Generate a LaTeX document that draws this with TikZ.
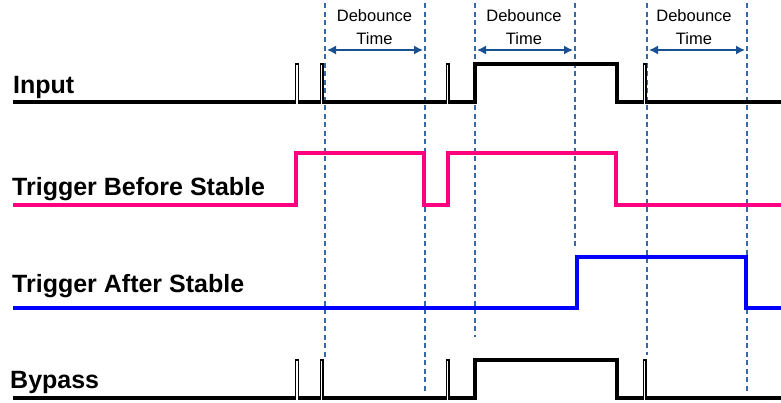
\documentclass[tikz,border=0pt]{standalone}
\usepackage{fontspec}
\setmainfont{Liberation Sans}
\usetikzlibrary{arrows.meta}
\definecolor{guide}{RGB}{55,105,165}
\definecolor{arrowc}{RGB}{25,80,145}
\definecolor{pinkw}{RGB}{255,0,128}
\definecolor{bluew}{RGB}{0,0,255}
\tikzset{
  guideline/.style={guide,line width=1.1pt,dash pattern=on 5pt off 3.5pt},
  wave/.style={line width=4pt,line join=miter,line cap=butt},
  glitch/.style={line width=1.4pt,black,line join=miter},
  sig/.style={font=\bfseries\fontsize{25}{28}\selectfont,anchor=base west,inner sep=0pt},
  dtext/.style={font=\fontsize{16.5}{18}\selectfont,anchor=base,inner sep=0pt},
  dbarrow/.style={arrowc,line width=1.5pt,{Latex[length=9pt,width=9pt]}-{Latex[length=9pt,width=9pt]}}
}
\begin{document}
\begin{tikzpicture}[x=1pt,y=-1pt]
\useasboundingbox (0,0) rectangle (781,402);
\fill[white] (0,0) rectangle (781,402);

% guide lines
\coordinate (g1t) at (325,3);  \coordinate (g1b) at (325,357);
\coordinate (g2t) at (425,3);  \coordinate (g2b) at (425,392);
\coordinate (g3t) at (475,3);  \coordinate (g3b) at (475,337);
\coordinate (g4t) at (575,3);  \coordinate (g4b) at (575,248);
\coordinate (g5t) at (647,3);  \coordinate (g5b) at (647,355);
\coordinate (g6t) at (747,3);  \coordinate (g6b) at (747,393);
\foreach \i in {1,...,6} \draw[guideline] (g\i t) -- (g\i b);

% debounce arrows
\coordinate (a1) at (325,50); \coordinate (a2) at (425,50);
\coordinate (a3) at (475,50); \coordinate (a4) at (575,50);
\coordinate (a5) at (647,50); \coordinate (a6) at (747,50);
\draw[dbarrow] ([xshift=2pt]a1) -- ([xshift=-2pt]a2);
\draw[dbarrow] ([xshift=2pt]a3) -- ([xshift=-2pt]a4);
\draw[dbarrow] ([xshift=2pt]a5) -- ([xshift=-2pt]a6);
\node[dtext] (d1) at (374.5,21) {Debounce};
\node[dtext] (t1) at (374.5,44) {Time};
\node[dtext] (d2) at (524,21) {Debounce};
\node[dtext] (t2) at (524,44) {Time};
\node[dtext] (d3) at (694,21) {Debounce};
\node[dtext] (t3) at (694,44) {Time};

% labels
\node[sig] (lin) at (13,93) {Input};
\node[sig] (ltb) at (12,195) {Trigger Before Stable};
\node[sig] (lta) at (12,292) {Trigger After Stable};
\node[sig] (lby) at (10,388) {Bypass};

% Input waveform
\draw[wave] (13,102) -- (295.7,102);
\draw[wave] (298.3,102) -- (320.2,102);
\draw[wave] (322.8,102) -- (446.2,102);
\draw[wave] (448.8,102) -- (475,102) -- (475,64) -- (617,64) -- (617,102) -- (643.2,102);
\draw[wave] (645.8,102) -- (781,102);
\draw[glitch] (295.7,104) -- (295.7,64) -- (298.3,64) -- (298.3,104);
\draw[glitch] (320.2,104) -- (320.2,64) -- (322.8,64) -- (322.8,104);
\draw[glitch] (446.2,104) -- (446.2,64) -- (448.8,64) -- (448.8,104);
\draw[glitch] (643.2,104) -- (643.2,64) -- (645.8,64) -- (645.8,104);

% Trigger Before Stable
\draw[wave,pinkw] (13,205) -- (296,205) -- (296,153) -- (424,153) -- (424,205) -- (448,205) -- (448,153) -- (616,153) -- (616,205) -- (781,205);

% Trigger After Stable
\draw[wave,bluew] (13,308) -- (577,308) -- (577,257) -- (746,257) -- (746,308) -- (781,308);

% Bypass
\draw[wave] (13,398) -- (295.7,398);
\draw[wave] (298.3,398) -- (320.2,398);
\draw[wave] (322.8,398) -- (446.2,398);
\draw[wave] (448.8,398) -- (475,398) -- (475,360) -- (617,360) -- (617,398) -- (643.2,398);
\draw[wave] (645.8,398) -- (781,398);
\draw[glitch] (295.7,400) -- (295.7,360) -- (298.3,360) -- (298.3,400);
\draw[glitch] (320.2,400) -- (320.2,360) -- (322.8,360) -- (322.8,400);
\draw[glitch] (446.2,400) -- (446.2,360) -- (448.8,360) -- (448.8,400);
\draw[glitch] (643.2,400) -- (643.2,360) -- (645.8,360) -- (645.8,400);
\end{tikzpicture}
\end{document}
